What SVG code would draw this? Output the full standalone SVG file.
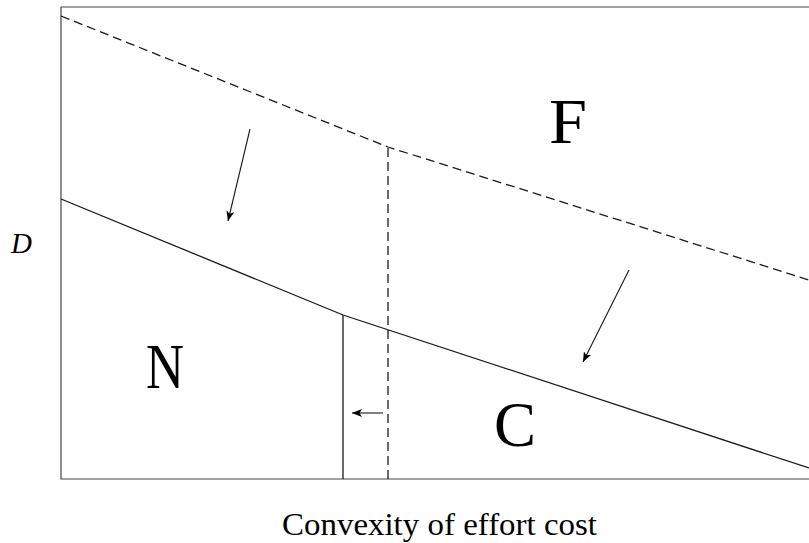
<svg xmlns="http://www.w3.org/2000/svg" width="809" height="543" viewBox="0 0 809 543">
<style>
.frame{fill:none;stroke:#444;stroke-width:1.2}
.solid{fill:none;stroke:#1a1a1a;stroke-width:1.3}
.dash{fill:none;stroke:#1a1a1a;stroke-width:1.3;stroke-dasharray:9 5}
.arr{fill:none;stroke:#1a1a1a;stroke-width:1.1;marker-end:url(#ah)}
.big{font-family:"Liberation Serif","DejaVu Serif",serif;font-size:64px;fill:#000}
.lab{font-family:"Liberation Serif","DejaVu Serif",serif;font-size:31px;fill:#000}
</style>
<defs>
<marker id="ah" viewBox="0 0 10 8" refX="10" refY="4" markerWidth="10" markerHeight="8" markerUnits="userSpaceOnUse" orient="auto">
<path d="M0,0 L10,4 L0,8 L2.5,4 Z" fill="#000"/>
</marker>
</defs>
<rect x="0" y="0" width="809" height="543" fill="#fff"/>
<g id="frame"><path class="frame" d="M61,7 H812 M61,7 V479 H812"/></g>
<g id="connectors">
<polyline class="dash" points="61,16 388,147 809,280"/>
<line class="dash" x1="388" y1="148" x2="388" y2="479"/>
<polyline class="solid" points="61,199 343,315 809,468"/>
<line class="solid" x1="343" y1="315" x2="343" y2="479"/>
<line class="arr" x1="250" y1="129" x2="228" y2="221"/>
<line class="arr" x1="629" y1="270" x2="583" y2="362"/>
<line class="arr" x1="383" y1="413" x2="352" y2="413"/>
</g>
<g id="F"><text class="big" x="549" y="143" textLength="38" lengthAdjust="spacingAndGlyphs">F</text></g>
<g id="N"><text class="big" x="146" y="388" textLength="38" lengthAdjust="spacingAndGlyphs">N</text></g>
<g id="C"><text class="big" x="494" y="446" textLength="42" lengthAdjust="spacingAndGlyphs">C</text></g>
<g id="D"><text x="11" y="253" font-family="Liberation Serif, serif" font-style="italic" font-size="29">D</text></g>
<g id="xlabel"><text class="lab" x="282" y="535" textLength="315" lengthAdjust="spacingAndGlyphs">Convexity of effort cost</text></g>
</svg>
